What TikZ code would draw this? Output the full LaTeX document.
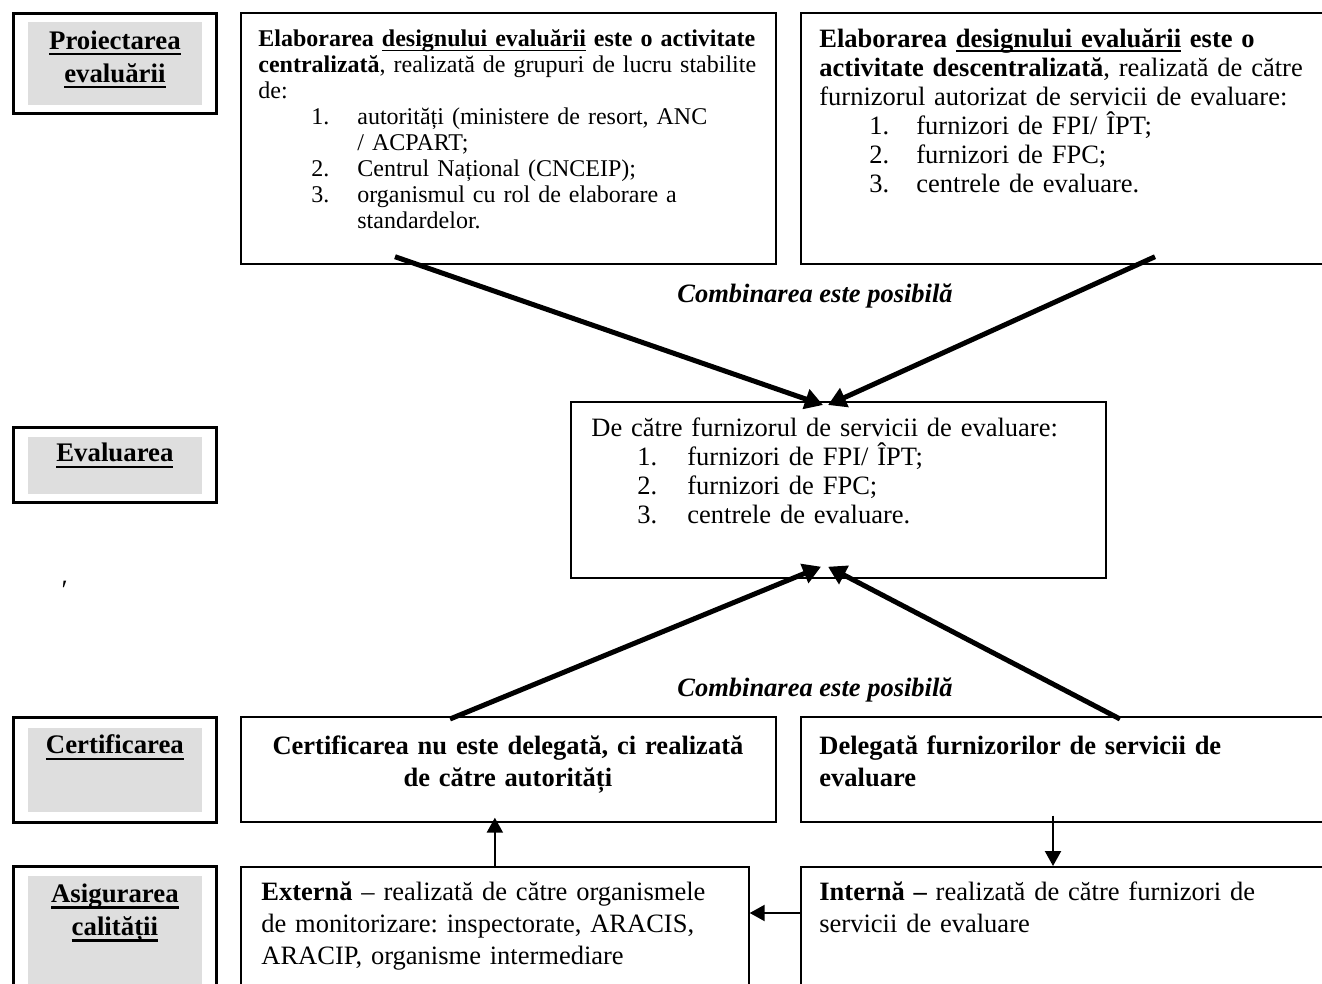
\documentclass[tikz,border=0pt]{standalone}
\usepackage{fontspec}
\setmainfont{Liberation Serif}
\usetikzlibrary{calc,positioning,arrows.meta}
\definecolor{gristitlu}{RGB}{222,222,222}
\def\px{0.5pt}
\frenchspacing
% sublinieri groase (titluri) si subtiri (text)
\newsavebox\cutiesub
\newcommand\sublin[1]{\sbox\cutiesub{#1}\rlap{\rule[-3pt]{\wd\cutiesub}{1.1pt}}\usebox\cutiesub}
\newcommand\sublinsub[1]{\sbox\cutiesub{#1}\rlap{\rule[-2.4pt]{\wd\cutiesub}{0.7pt}}\usebox\cutiesub}
% element de lista numerotata: indent numar, indent text, numar
\newcommand\nr[3]{\par\noindent\hangindent=#2\hspace*{#1}\makebox[\dimexpr#2-#1\relax][l]{#3}\ignorespaces}

\begin{document}
\begin{tikzpicture}[x=\px,y=-\px,
  eticheta/.style={draw,line width=1.4pt,anchor=north west,inner sep=0,
                   minimum width=203*\px,minimum height=#1*\px},
  cutie/.style 2 args={draw,line width=0.85pt,anchor=north west,inner sep=0,
                   minimum width=#1*\px,minimum height=#2*\px},
  titlu/.style={anchor=north,inner sep=0,align=center,
                font=\bfseries\fontsize{13.4}{16.5}\selectfont},
  scris/.style={anchor=north west,inner sep=0,align=left,text width=#1*\px},
  comb/.style={anchor=base,inner sep=0,font=\bfseries\itshape\fontsize{13.25}{16}\selectfont},
  sageata/.style={line width=2.5pt,-{Triangle[length=9pt,width=10pt]}},
  sagsub/.style={line width=1.1pt,-{Triangle[length=7.5pt,width=8pt]}}]
\useasboundingbox (0,0) rectangle (1322,984);

% coloana de etichete
\node[eticheta=100] (etProi) at (12,12) {};
\fill[gristitlu] ($(etProi.north west)+(16,10)$) rectangle ($(etProi.south east)+(-16,-10)$);
\node[titlu] (tProi) at ($(etProi.north)+(0,18.5)$) {\sublin{Proiectarea}\\\sublin{evaluării}};

\node[eticheta=75] (etEval) at (12,426) {};
\fill[gristitlu] ($(etEval.north west)+(16,11)$) rectangle ($(etEval.south east)+(-16,-10)$);
\node[titlu] (tEval) at ($(etEval.north)+(0,17)$) {\sublin{Evaluarea}};

\node[eticheta=105] (etCert) at (12,716) {};
\fill[gristitlu] ($(etCert.north west)+(16,12)$) rectangle ($(etCert.south east)+(-16,-12)$);
\node[titlu] (tCert) at ($(etCert.north)+(0,18.5)$) {\sublin{Certificarea}};

\node[eticheta=140] (etAsig) at (12,865) {};
\fill[gristitlu] ($(etAsig.north west)+(16,11)$) rectangle ($(etAsig.south east)+(-16,-23)$);
\node[titlu] (tAsig) at ($(etAsig.north)+(0,18.5)$) {\sublin{Asigurarea}\\\sublin{calității}};

% cutiile
\node[cutie={535}{251}] (bA) at (240,12) {};
\node[cutie={560}{251}] (bB) at (800,12) {};
\node[cutie={535}{176}] (bM) at (570,401) {};
\node[cutie={535}{105}] (bC) at (240,716) {};
\node[cutie={560}{105}] (bD) at (800,716) {};
\node[cutie={508}{140}] (bE) at (240,866) {};
\node[cutie={560}{140}] (bF) at (800,866) {};

\node[scris=505,font=\fontsize{12}{13}\selectfont] (tA) at ($(bA.north west)+(18,17)$) {%
  \textbf{Elaborarea \sublinsub{designului evaluării} este o activitate}\\
  \textbf{centralizată}, realizată de grupuri de lucru stabilite\\
  de:
  \nr{26.5pt}{49.5pt}{1.}autorități (ministere de resort, ANC\newline / ACPART;
  \nr{26.5pt}{49.5pt}{2.}Centrul Național (CNCEIP);
  \nr{26.5pt}{49.5pt}{3.}organismul cu rol de elaborare a\newline standardelor.\par};

\node[scris=505,font=\fontsize{13.25}{14.5}\selectfont] (tB) at ($(bB.north west)+(19,16)$) {%
  \textbf{Elaborarea \sublinsub{designului evaluării} este o}\\
  \textbf{activitate descentralizată}, realizată de către\\
  furnizorul autorizat de servicii de evaluare:
  \nr{25pt}{48.5pt}{1.}furnizori de FPI/ ÎPT;
  \nr{25pt}{48.5pt}{2.}furnizori de FPC;
  \nr{25pt}{48.5pt}{3.}centrele de evaluare.\par};

\node[scris=505,font=\fontsize{13.25}{14.6}\selectfont] (tM) at ($(bM.north west)+(21,16)$) {%
  De către furnizorul de servicii de evaluare:
  \nr{23pt}{48pt}{1.}furnizori de FPI/ ÎPT;
  \nr{23pt}{48pt}{2.}furnizori de FPC;
  \nr{23pt}{48pt}{3.}centrele de evaluare.\par};

\node[scris=535,align=center,font=\bfseries\fontsize{13.25}{16}\selectfont] (tC) at ($(bC.north west)+(0,19)$) {%
  Certificarea nu este delegată, ci realizată\\ de către autorități};
\node[scris=505,font=\bfseries\fontsize{13.25}{16}\selectfont] (tD) at ($(bD.north west)+(19,19)$) {%
  Delegată furnizorilor de servicii de\\ evaluare};
\node[scris=480,font=\fontsize{13.25}{16}\selectfont] (tE) at ($(bE.north west)+(21,15)$) {%
  \textbf{Externă} – realizată de către organismele\\
  de monitorizare: inspectorate, ARACIS,\\
  ARACIP, organisme intermediare};
\node[scris=505,font=\fontsize{13.25}{16}\selectfont] (tF) at ($(bF.north west)+(19,15)$) {%
  \textbf{Internă –} realizată de către furnizori de\\
  servicii de evaluare};

\node[comb] (comb1) at (815,302) {Combinarea este posibilă};
\node[comb] (comb2) at (815,696) {Combinarea este posibilă};
\node[inner sep=0,font=\itshape\fontsize{14}{14}\selectfont] (semn) at (63,590) {′};

% sagetile groase
\draw[sageata] ($(bA.south west)+(155,-8)$) -- ($(bM.north west)+(253,4)$);
\draw[sageata] ($(bB.south west)+(355,-8)$) -- ($(bM.north west)+(258,4)$);
\draw[sageata] ($(bC.north west)+(210,3)$) -- ($(bM.south west)+(251,-12)$);
\draw[sageata] ($(bD.north west)+(320,3)$) -- ($(bM.south west)+(258,-12)$);

% sagetile subtiri
\draw[sagsub] (bE.north) -- ($(bE.north |- bC.south)+(0,-5)$);
\draw[sagsub] ($(bD.south west)+(253,-7)$) -- ($(bF.north west)+(253,0)$);
\draw[sagsub] ($(bF.north west)+(0,47)$) -- ($(bE.north east)+(0,47)$);
\end{tikzpicture}
\end{document}
